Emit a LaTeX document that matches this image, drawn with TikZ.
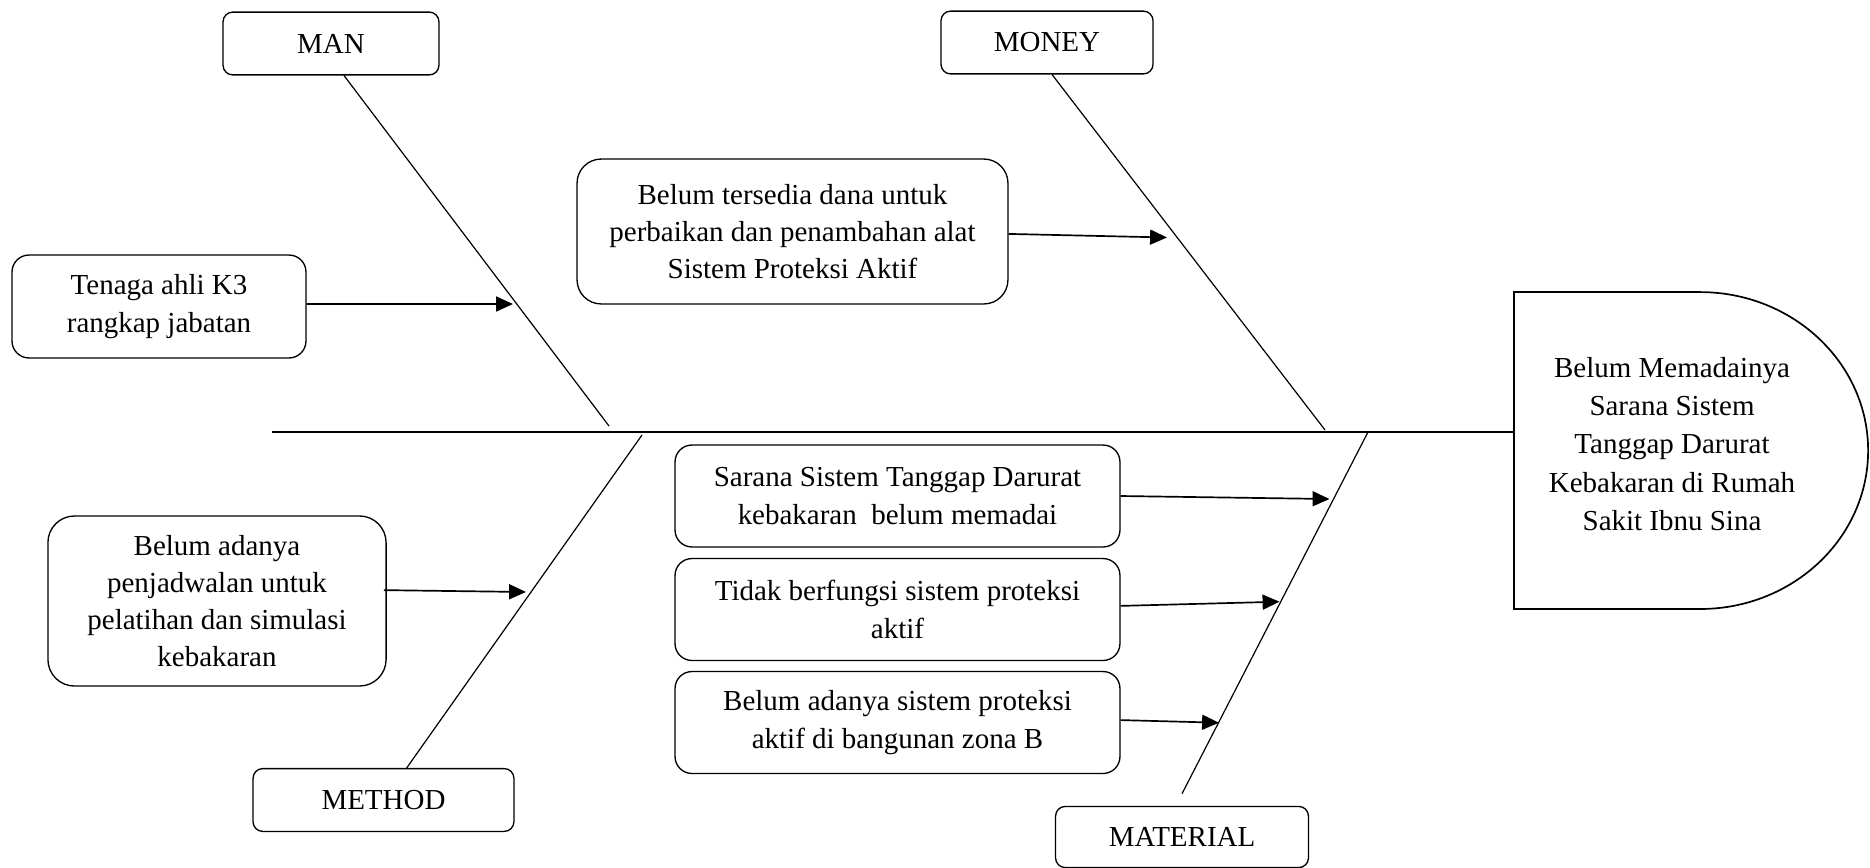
\documentclass[tikz,border=0pt]{standalone}
\usepackage{fontspec}
\setmainfont{Liberation Serif}
\usetikzlibrary{arrows.meta}
\begin{document}
\begin{tikzpicture}[x=0.414pt, y=-0.414pt,
    every node/.style={font=\fontsize{12pt}{15.4pt}\selectfont, align=center, inner sep=0pt},
    cat/.style={draw, line width=0.55pt, rounded corners=4pt, minimum height=26pt},
    cause/.style={draw, line width=0.55pt, rounded corners=7pt, minimum width=184.2pt, minimum height=42.2pt},
    bone/.style={line width=0.5pt},
    arr/.style={line width=0.7pt, -{Triangle[length=7pt, width=6.2pt]}}]
    \useasboundingbox (0,0) rectangle (1870,867);
    \node[cat, minimum width=89.4pt] (Man) at (331,43.5) {MAN};
    \node[cat, minimum width=87.8pt] (Money) at (1047,42.5) {MONEY};
    \node[cat, minimum width=108pt] (Method) at (383.5,800) {METHOD};
    \node[cat, minimum width=104.7pt, minimum height=25.3pt] (Material) at (1182,837) {MATERIAL};
    \node[cause, minimum width=121.7pt, minimum height=42.6pt] (C1) at (159,306.5) {Tenaga ahli K3\\rangkap jabatan};
    \node[cause, rounded corners=10pt, minimum width=178.4pt, minimum height=60pt] (C2) at (792.5,231.5) {Belum tersedia dana untuk\\perbaikan dan penambahan alat\\Sistem Proteksi Aktif};
    \node[cause, rounded corners=11pt, minimum width=140pt, minimum height=70.4pt, text depth=-6pt] (C3) at (217,601) {Belum adanya\\penjadwalan untuk\\pelatihan dan simulasi\\kebakaran};
    \node[cause] (C4) at (897.5,496) {Sarana Sistem Tanggap Darurat\\kebakaran\ \ belum memadai};
    \node[cause] (C5) at (897.5,609.5) {Tidak berfungsi sistem proteksi\\aktif};
    \node[cause] (C6) at (897.5,722.5) {Belum adanya sistem proteksi\\aktif di bangunan zona B};
    \coordinate (HeadNE) at (1700,292);
    \coordinate (HeadNW) at (1514,292);
    \coordinate (HeadSW) at (1514,609);
    \coordinate (HeadSE) at (1700,609);
    \draw[line width=0.7pt] (HeadNE) -- (HeadNW) -- (HeadSW) -- (HeadSE)
        arc[start angle=-90, end angle=90, x radius=69.6pt, y radius=65.6pt] -- cycle;
    \node[font=\fontsize{12pt}{15.9pt}\selectfont] (Head) at (1672,444) {Belum Memadainya\\Sarana Sistem\\Tanggap Darurat\\Kebakaran di Rumah\\Sakit Ibnu Sina};
    \coordinate (Tail) at (272,432);
    \coordinate (HeadW) at (1514,432);
    \draw[line width=0.8pt] (Tail) -- (HeadW);
    \coordinate (ManEnd) at (609,426);
    \coordinate (MoneyEnd) at (1325,430);
    \coordinate (MethodEnd) at (642,435);
    \coordinate (MaterialEnd) at (1368,432);
    \draw[bone] ([xshift=5.4pt]Man.south) -- (ManEnd);
    \draw[bone] ([xshift=2.1pt]Money.south) -- (MoneyEnd);
    \draw[bone] ([xshift=9.6pt]Method.north) -- (MethodEnd);
    \draw[bone] ([yshift=5pt]Material.north) -- (MaterialEnd);
    \coordinate (T1) at (513,304);
    \coordinate (T2) at (1167,237.5);
    \coordinate (T3) at (526,592);
    \coordinate (T4) at (1329.5,499);
    \coordinate (T5) at (1279.5,601.7);
    \coordinate (T6) at (1219,722.7);
    \draw[arr] ([yshift=1pt]C1.east) -- (T1);
    \draw[arr] ([yshift=-1pt]C2.east) -- (T2);
    \draw[arr] ([xshift=-1.2pt, yshift=4.5pt]C3.east) -- (T3);
    \draw[arr] (C4.east) -- (T4);
    \draw[arr] ([yshift=1.5pt]C5.east) -- (T5);
    \draw[arr] ([yshift=1pt]C6.east) -- (T6);
\end{tikzpicture}
\end{document}
